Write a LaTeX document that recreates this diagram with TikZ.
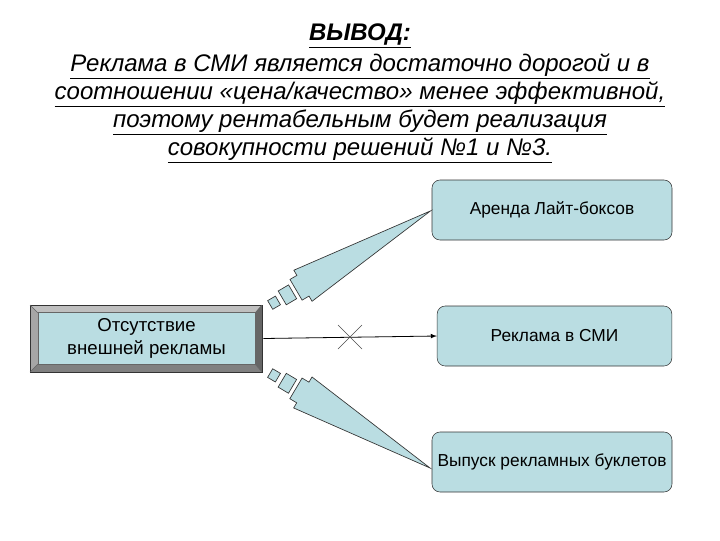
\documentclass[tikz,border=0pt]{standalone}
\usepackage{fontspec}
\setmainfont{Liberation Sans}
\newcommand\myul[1]{\underline{#1}}
\begin{document}
\begin{tikzpicture}[x=0.75pt,y=-0.75pt,
  box/.style={draw=black!80,fill=lb,rounded corners=6pt,minimum width=180pt,minimum height=45pt,font=\fontsize{13}{15}\selectfont},
  arr/.style={draw=black!80,fill=lb,line width=0.5pt}]
\definecolor{lb}{HTML}{BADDE2}
\useasboundingbox (0,0) rectangle (720,540);
\node[font=\fontsize{18}{21}\selectfont\itshape\bfseries] (t0) at (360,36) {\myul{ВЫВОД:}};
\node[font=\fontsize{18}{21}\selectfont\itshape,align=center] (t1) at (360,108) {%
\myul{Реклама в СМИ является достаточно дорогой и в}\\
\myul{соотношении «цена/качество» менее эффективной,}\\
\myul{поэтому рентабельным будет реализация}\\
\myul{совокупности решений №1 и №3.}};
% bevel box
\fill[black!55] (30,305) rectangle (262,372);
\fill[black!25] (30,305) -- (262,305) -- (255,313) -- (38,313) -- cycle;
\fill[black!35] (30,305) -- (38,313) -- (38,364) -- (30,372) -- cycle;
\fill[black!60] (262,305) -- (255,313) -- (255,364) -- (262,372) -- cycle;
\fill[black!50] (30,372) -- (38,364) -- (255,364) -- (262,372) -- cycle;
\draw[black!80] (30,305) rectangle (262,372);
\draw[black!60] (30,305) -- (38,313) (262,305) -- (255,313) (30,372) -- (38,364) (262,372)--(255,364);
\node[fill=lb,draw=black!60,minimum width=163pt,minimum height=39pt,inner sep=0pt,align=center,font=\fontsize{14}{17}\selectfont] (src) at (146.5,338.5) {Отсутствие\\внешней рекламы};
\node[box,minimum width=180pt] (b1) at (552,210) {Аренда Лайт-боксов};
\node[box,minimum width=176pt] (b2) at (554.5,336) {Реклама в СМИ};
\node[box,minimum width=180pt] (b3) at (552,462) {Выпуск рекламных буклетов};
\coordinate (s1) at (265,308);
\coordinate (s2) at (265,370);
\foreach \s/\a in {s1/30.4,s2/-30.7}{
\begin{scope}[shift={(\s)},rotate=\a]
 \draw[arr] (6,-5) rectangle (15,5);
 \draw[arr] (20,-8) rectangle (32,8);
 \draw[arr] (36,-12) -- (44,-12) -- (44,-18) -- (192,0) -- (44,18) -- (44,12) -- (36,12) -- cycle;
\end{scope}}
\draw[-latex,line width=0.6pt] (src.east) ++(8,0) -- (b2.west);
\draw[black!70] (338,325) -- (362,349) (338,349) -- (362,325);
\end{tikzpicture}
\end{document}
